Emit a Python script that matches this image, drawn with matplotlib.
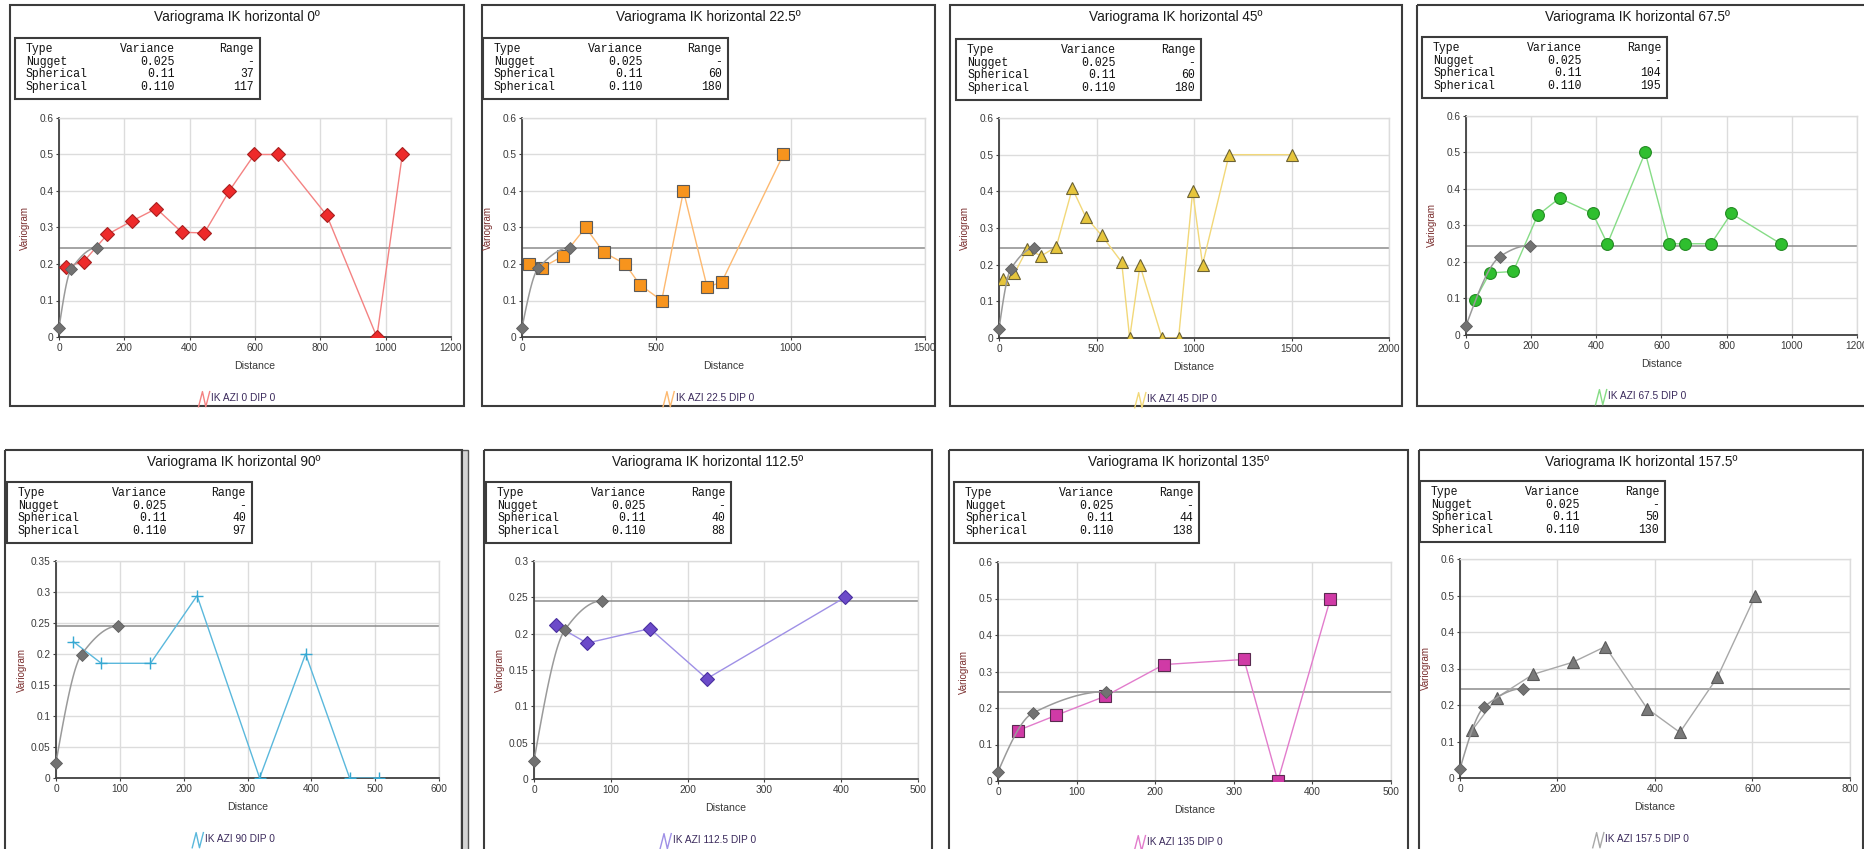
import numpy as np
import matplotlib
matplotlib.use("Agg")
import matplotlib.pyplot as plt
from matplotlib.patches import Rectangle
from matplotlib.lines import Line2D
from matplotlib.legend_handler import HandlerBase

W, H = 1865, 849

# model parameters (same nugget / sills for every direction)
nugget = 0.025
sill1 = 0.11
sill2 = 0.110
variance_labels = ["0.025", "0.11", "0.110"]

directions = ["0", "22.5", "45", "67.5", "90", "112.5", "135", "157.5"]
range1 = [37, 60, 60, 104, 40, 40, 44, 50]
range2 = [117, 180, 180, 195, 97, 88, 138, 130]

# experimental variograms (lag distance, gamma)
lag_0 = [22, 75, 148, 224, 298, 376, 445, 521, 598, 671, 820, 973, 1051]
gam_0 = [0.193, 0.206, 0.281, 0.318, 0.352, 0.287, 0.285, 0.400, 0.500, 0.500, 0.333, 0.0, 0.500]

lag_22 = [25, 74, 151, 237, 304, 384, 439, 520, 601, 689, 743, 973]
gam_22 = [0.200, 0.190, 0.221, 0.300, 0.232, 0.200, 0.143, 0.100, 0.400, 0.137, 0.150, 0.500]

lag_45 = [22, 79, 144, 217, 294, 376, 444, 526, 629, 670, 723, 836, 921, 993, 1044, 1180, 1504]
gam_45 = [0.160, 0.176, 0.242, 0.224, 0.249, 0.408, 0.331, 0.280, 0.207, 0.0, 0.198, 0.0, 0.0,
          0.400, 0.200, 0.500, 0.500]

lag_67 = [27, 73, 145, 220, 287, 389, 434, 550, 624, 671, 752, 814, 966]
gam_67 = [0.095, 0.170, 0.174, 0.328, 0.375, 0.333, 0.250, 0.500, 0.250, 0.250, 0.250, 0.333, 0.250]

lag_90 = [27, 71, 148, 221, 319, 391, 460, 506]
gam_90 = [0.220, 0.185, 0.185, 0.294, 0.0, 0.200, 0.0, 0.0]

lag_112 = [28, 69, 151, 225, 405]
gam_112 = [0.212, 0.187, 0.207, 0.138, 0.250]

lag_135 = [25, 74, 136, 211, 313, 356, 423]
gam_135 = [0.138, 0.180, 0.232, 0.319, 0.333, 0.0, 0.500]

lag_157 = [25, 75, 150, 231, 298, 384, 451, 528, 606]
gam_157 = [0.131, 0.220, 0.284, 0.317, 0.360, 0.190, 0.125, 0.276, 0.500]

lags = [lag_0, lag_22, lag_45, lag_67, lag_90, lag_112, lag_135, lag_157]
gammas = [gam_0, gam_22, gam_45, gam_67, gam_90, gam_112, gam_135, gam_157]

# axis extents per direction
xmax = [1200, 1500, 2000, 1200, 600, 500, 500, 800]
xstep = [200, 500, 500, 200, 100, 100, 100, 200]
ymax = [0.6, 0.6, 0.6, 0.6, 0.35, 0.3, 0.6, 0.6]
ystep = [0.1, 0.1, 0.1, 0.1, 0.05, 0.05, 0.1, 0.1]

# marker, face, edge, line colour, marker size
styles = [
    ("D", "#ee2a2a", "#a82020", "#f48282", 7.5),
    ("s", "#f7941d", "#5a5a5a", "#fdb970", 8.5),
    ("^", "#e6c53c", "#6b6234", "#f2d879", 8.5),
    ("o", "#2fbf2f", "#238a23", "#86dc86", 8.5),
    ("+", "#35a8d2", "#35a8d2", "#5ab8dc", 9),
    ("D", "#6c4bc9", "#4a30a0", "#9f90e6", 7.5),
    ("s", "#d03aa6", "#5a2a50", "#e27ccc", 8.5),
    ("^", "#7a7a7a", "#5a5a5a", "#a8a8a8", 8.5),
]

# panel geometry in pixels: frame box, plot box, table corner
frames = [(10, 5, 464, 406), (482, 5, 935, 406), (950, 5, 1402, 406), (1417, 5, 1875, 406),
          (5, 450, 462, 870), (484, 450, 932, 870), (949, 450, 1408, 870), (1419, 450, 1863, 870)]
plots = [(59, 118, 451, 337), (522, 118, 925, 337), (999, 118, 1389, 338), (1466, 116, 1857, 335),
         (56, 561, 439, 778), (534, 561, 918, 779), (998, 562, 1391, 781), (1460, 559, 1850, 778)]
tables = [(15, 38), (483, 38), (956, 39), (1422, 37), (7, 482), (486, 482), (954, 482), (1420, 481)]


def spherical(h, a):
    r = np.minimum(h / a, 1.0)
    return 1.5 * r - 0.5 * r ** 3


def model(h, a1, a2):
    return nugget + sill1 * spherical(h, a1) + sill2 * spherical(h, a2)


class ZigZagHandler(HandlerBase):
    # little "/\/" icon used by the chart legends
    def create_artists(self, legend, orig_handle, xdescent, ydescent,
                       width, height, fontsize, trans):
        x0, y0 = -xdescent, -ydescent
        xs = [x0, x0 + width * 0.35, x0 + width * 0.65, x0 + width]
        ys = [y0 - height * 0.6, y0 + height * 1.2, y0 - height * 0.6, y0 + height * 1.2]
        return [Line2D(xs, ys, color=orig_handle.get_color(), lw=1.0, transform=trans)]


fig = plt.figure(figsize=(W / 100, H / 100), dpi=100)

# pixel-space layer for frames, titles and parameter tables
bg = fig.add_axes([0, 0, 1, 1])
bg.set_xlim(0, W)
bg.set_ylim(H, 0)
bg.axis("off")
bg.set_zorder(-1)

# splitter between the first two bottom panels
bg.add_patch(Rectangle((461, 450), 7, 410, facecolor="#d4d4d4", edgecolor="#555555", lw=1.0))

for i in range(8):
    fx0, fy0, fx1, fy1 = frames[i]
    bg.add_patch(Rectangle((fx0, fy0), fx1 - fx0, fy1 - fy0, fill=False,
                           edgecolor="#3c3c3c", lw=1.5))
    cx = (fx0 + fx1) / 2 if fx1 <= W else (fx0 + W) / 2 - 4
    bg.text(cx, fy0 + 12, "Variograma IK horizontal %sº" % directions[i],
            ha="center", va="center", fontsize=9.8, family="Liberation Sans", color="#1a1a1a")

    tx, ty = tables[i]
    bg.add_patch(Rectangle((tx, ty), 245, 61, facecolor="white", edgecolor="#3c3c3c", lw=1.5))
    rows = [("Type", "Variance", "Range"),
            ("Nugget", variance_labels[0], "-"),
            ("Spherical", variance_labels[1], str(range1[i])),
            ("Spherical", variance_labels[2], str(range2[i]))]
    for r, (c1, c2, c3) in enumerate(rows):
        yy = ty + 11 + r * 12.7
        kw = dict(va="center", fontsize=8.3, family="Liberation Mono", color="#111111")
        bg.text(tx + 11, yy, c1, ha="left", **kw)
        bg.text(tx + 160, yy, c2, ha="right", **kw)
        bg.text(tx + 239, yy, c3, ha="right", **kw)

    # chart area
    px0, py0, px1, py1 = plots[i]
    ax = fig.add_axes([px0 / W, 1 - py1 / H, (px1 - px0) / W, (py1 - py0) / H])
    ax.set_xlim(0, xmax[i])
    ax.set_ylim(0, ymax[i])
    ax.set_xticks(np.arange(0, xmax[i] + 1, xstep[i]))
    yt = np.round(np.arange(0, ymax[i] + 1e-9, ystep[i]), 3)
    ax.set_yticks(yt)
    ax.set_yticklabels(["%g" % v for v in yt])
    ax.grid(True, color="#dcdcdc", lw=1.0)
    ax.set_axisbelow(True)
    for side in ("top", "right"):
        ax.spines[side].set_color("#dcdcdc")
        ax.spines[side].set_linewidth(1.0)
    for side in ("left", "bottom"):
        ax.spines[side].set_color("#404040")
        ax.spines[side].set_linewidth(1.3)
    ax.tick_params(length=2.5, width=0.8, color="#404040", labelsize=7.3,
                   labelcolor="#3a3a3a", pad=1.5)
    for lab in ax.get_xticklabels() + ax.get_yticklabels():
        lab.set_family("Liberation Sans")

    ax.set_xlabel("Distance", fontsize=7.6, family="Liberation Sans", color="#3a3a3a")
    ax.xaxis.set_label_coords(0.5, -24 / (py1 - py0))
    ax.set_ylabel("Variogram", fontsize=7, family="Liberation Sans", color="#7a2e2e")
    ax.yaxis.set_label_coords(-29 / (px1 - px0), 0.5)

    mk, face, edge, line, ms = styles[i]
    exp_line, = ax.plot(lags[i], gammas[i], color=line, lw=1.0, marker=mk, ms=ms,
                        mfc=face, mec=edge, mew=0.8 if mk != "+" else 1.0, zorder=3)

    # fitted nested spherical model and its sill
    sill = nugget + sill1 + sill2
    ax.axhline(sill, color="#8c8c8c", lw=1.1, zorder=2)
    h = np.linspace(0, range2[i], 120)
    ax.plot(h, model(h, range1[i], range2[i]), color="#9a9a9a", lw=1.1, zorder=4)
    hk = np.array([0, range1[i], range2[i]], dtype=float)
    ax.plot(hk, model(hk, range1[i], range2[i]), ls="none", marker="D", ms=6,
            mfc="#727272", mec="#5e5e5e", mew=0.6, zorder=5, clip_on=False)

    leg_x = ((fx0 + min(fx1, W)) / 2) / W
    leg_y = 1 - (py1 + 61) / H
    leg = ax.legend([exp_line], ["IK AZI %s DIP 0" % directions[i]],
                    handler_map={Line2D: ZigZagHandler()},
                    loc="center", bbox_to_anchor=(leg_x, leg_y), bbox_transform=fig.transFigure,
                    frameon=False, fontsize=7.3, handlelength=1.1, handleheight=0.9,
                    handletextpad=0.15, borderpad=0)
    for t in leg.get_texts():
        t.set_color("#3b2a5c")
        t.set_family("Liberation Sans")

fig.savefig("out.png", dpi=100, facecolor="white")
